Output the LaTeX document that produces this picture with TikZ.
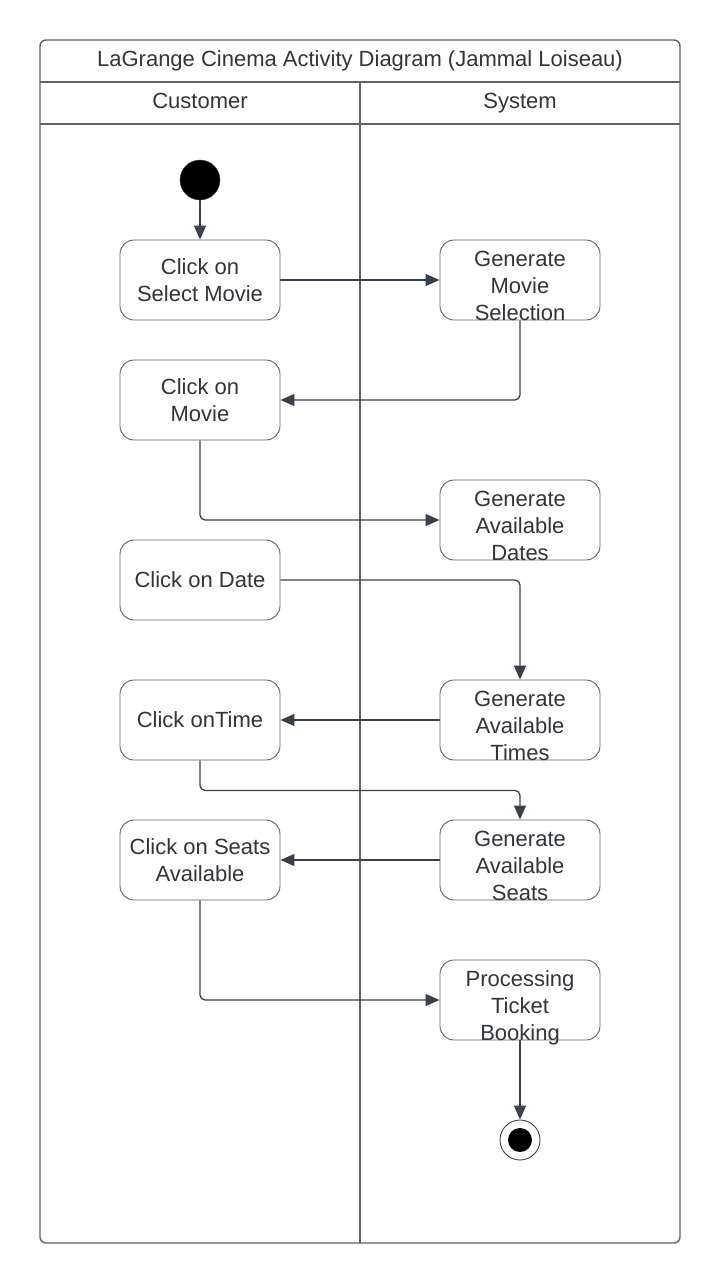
\documentclass[tikz,border=0pt]{standalone}
\usepackage{fontspec}
\setmainfont{Liberation Sans}
\usetikzlibrary{arrows.meta}
\definecolor{lineclr}{HTML}{3A414A}
\definecolor{boxclr}{HTML}{5F6368}
\definecolor{txtclr}{HTML}{30353B}

\begin{document}
\begin{tikzpicture}[x=1pt, y=-1pt,
    every node/.style={font=\fontsize{22}{27}\selectfont, text=txtclr},
    act/.style={draw=boxclr, line width=0.9pt, rounded corners=14pt, minimum width=160pt, minimum height=80pt, inner sep=0pt, align=center},
    actlow/.style={act, text height=80pt, text depth=0pt},
    flow/.style={draw=lineclr, line width=1.3pt, rounded corners=5pt, -{Triangle[length=14pt,width=12pt]}}]
    \useasboundingbox (0,0) rectangle (720,1283);

    % Frame and swimlanes
    \draw[boxclr, line width=1.4pt, rounded corners=6pt] (40,40) rectangle (680,1243);
    \draw[boxclr, line width=1.2pt] (40,82) -- (680,82) (40,124) -- (680,124) (360,82) -- (360,1243);
    \node[anchor=base] (title) at (360,66) {LaGrange Cinema Activity Diagram (Jammal Loiseau)};
    \node[anchor=base] (cust) at (200,108) {Customer};
    \node[anchor=base] (sys) at (520,108) {System};

    % Start and end
    \node[circle, fill=black, draw=lineclr, minimum size=40pt, inner sep=0pt] (start) at (200,180) {};
    \node[circle, draw=lineclr, line width=0.9pt, minimum size=40pt, inner sep=0pt] (stop) at (520,1140) {};
    \fill (stop) circle (12pt);

    % Customer actions
    \node[act] (selmovie) at (200,280) {Click on\\Select Movie};
    \node[act] (movie) at (200,400) {Click on\\Movie};
    \node[act] (date) at (200,580) {Click on Date};
    \node[act] (time) at (200,720) {Click onTime};
    \node[act] (seats) at (200,860) {Click on Seats\\Available};

    % System actions
    \node[actlow] (genmovie) at (520,280) {Generate\\Movie\\Selection};
    \node[actlow] (gendates) at (520,520) {Generate\\Available\\Dates};
    \node[actlow] (gentimes) at (520,720) {Generate\\Available\\Times};
    \node[actlow] (genseats) at (520,860) {Generate\\Available\\Seats};
    \node[actlow] (booking) at (520,1000) {Processing\\Ticket\\Booking};

    % Flows
    \draw[flow] (start) -- (selmovie);
    \draw[flow] (selmovie) -- (genmovie);
    \draw[flow] (genmovie) |- (movie);
    \draw[flow] (movie) |- (gendates);
    \draw[flow] (date) -| (gentimes);
    \draw[flow] (gentimes) -- (time);
    \draw[flow] (time.south) -- ++(0,30) -| (genseats.north);
    \draw[flow] (genseats) -- (seats);
    \draw[flow] (seats) |- (booking);
    \draw[flow] (booking) -- (stop);
\end{tikzpicture}
\end{document}
